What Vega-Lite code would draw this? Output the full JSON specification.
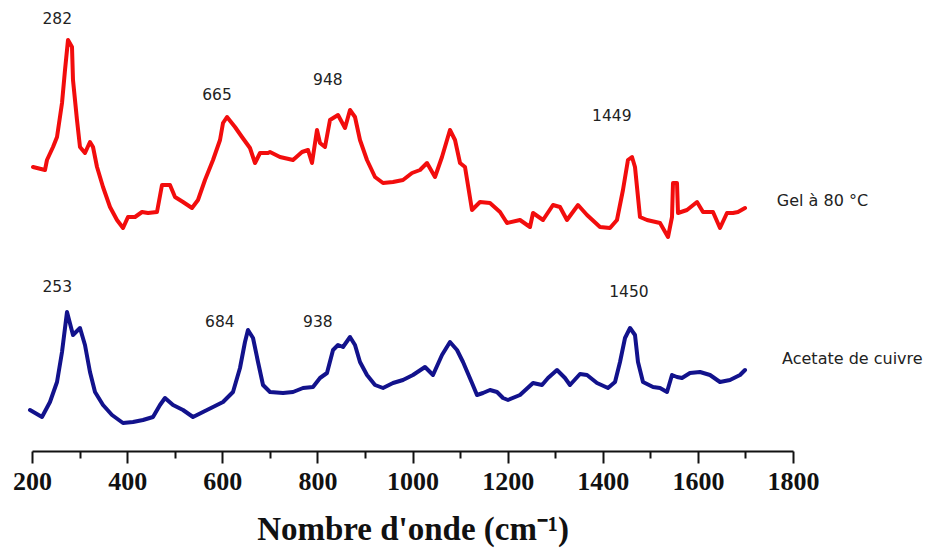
{
  "$schema": "https://vega.github.io/schema/vega-lite/v6.json",
  "width": 761,
  "height": 451,
  "autosize": {"type": "none"},
  "padding": {"left": 32, "top": 0, "right": 138, "bottom": 98},
  "background": "white",
  "config": {"view": {"stroke": null}},
  "datasets": {
    "spectra": [
      {"s": "Gel", "wn": 202.1, "i": 284}, {"s": "Gel", "wn": 227.3, "i": 281}, {"s": "Gel", "wn": 231.5, "i": 291}, {"s": "Gel", "wn": 244.2, "i": 304}, {"s": "Gel", "wn": 252.6, "i": 314}, {"s": "Gel", "wn": 263.1, "i": 348}, {"s": "Gel", "wn": 269.4, "i": 381}, {"s": "Gel", "wn": 275.7, "i": 411}, {"s": "Gel", "wn": 284.1, "i": 404}, {"s": "Gel", "wn": 286.2, "i": 371}, {"s": "Gel", "wn": 294.6, "i": 331}, {"s": "Gel", "wn": 300.9, "i": 304}, {"s": "Gel", "wn": 311.4, "i": 298}, {"s": "Gel", "wn": 321.9, "i": 309}, {"s": "Gel", "wn": 328.3, "i": 304}, {"s": "Gel", "wn": 336.7, "i": 284}, {"s": "Gel", "wn": 349.3, "i": 264}, {"s": "Gel", "wn": 364.0, "i": 244}, {"s": "Gel", "wn": 378.7, "i": 231}, {"s": "Gel", "wn": 391.4, "i": 223}, {"s": "Gel", "wn": 401.8, "i": 234}, {"s": "Gel", "wn": 416.6, "i": 234}, {"s": "Gel", "wn": 431.3, "i": 239}, {"s": "Gel", "wn": 443.9, "i": 238}, {"s": "Gel", "wn": 462.8, "i": 239}, {"s": "Gel", "wn": 473.3, "i": 266}, {"s": "Gel", "wn": 490.1, "i": 266}, {"s": "Gel", "wn": 500.7, "i": 254}, {"s": "Gel", "wn": 517.5, "i": 249}, {"s": "Gel", "wn": 536.4, "i": 243}, {"s": "Gel", "wn": 549.0, "i": 251}, {"s": "Gel", "wn": 563.7, "i": 271}, {"s": "Gel", "wn": 580.6, "i": 291}, {"s": "Gel", "wn": 595.3, "i": 311}, {"s": "Gel", "wn": 601.6, "i": 328}, {"s": "Gel", "wn": 610.0, "i": 334}, {"s": "Gel", "wn": 626.8, "i": 324}, {"s": "Gel", "wn": 641.5, "i": 314}, {"s": "Gel", "wn": 658.3, "i": 303}, {"s": "Gel", "wn": 668.9, "i": 288}, {"s": "Gel", "wn": 679.4, "i": 298}, {"s": "Gel", "wn": 696.2, "i": 298}, {"s": "Gel", "wn": 700.4, "i": 299}, {"s": "Gel", "wn": 721.4, "i": 294}, {"s": "Gel", "wn": 748.8, "i": 291}, {"s": "Gel", "wn": 767.7, "i": 299}, {"s": "Gel", "wn": 780.3, "i": 301}, {"s": "Gel", "wn": 788.7, "i": 288}, {"s": "Gel", "wn": 799.2, "i": 321}, {"s": "Gel", "wn": 805.5, "i": 308}, {"s": "Gel", "wn": 816.0, "i": 304}, {"s": "Gel", "wn": 826.5, "i": 331}, {"s": "Gel", "wn": 843.4, "i": 336}, {"s": "Gel", "wn": 858.1, "i": 323}, {"s": "Gel", "wn": 868.6, "i": 341}, {"s": "Gel", "wn": 879.1, "i": 334}, {"s": "Gel", "wn": 889.6, "i": 311}, {"s": "Gel", "wn": 904.3, "i": 291}, {"s": "Gel", "wn": 921.2, "i": 274}, {"s": "Gel", "wn": 938.0, "i": 268}, {"s": "Gel", "wn": 959.0, "i": 269}, {"s": "Gel", "wn": 980.0, "i": 271}, {"s": "Gel", "wn": 999.0, "i": 278}, {"s": "Gel", "wn": 1015.8, "i": 281}, {"s": "Gel", "wn": 1030.5, "i": 288}, {"s": "Gel", "wn": 1047.3, "i": 274}, {"s": "Gel", "wn": 1062.0, "i": 294}, {"s": "Gel", "wn": 1078.8, "i": 321}, {"s": "Gel", "wn": 1089.4, "i": 311}, {"s": "Gel", "wn": 1099.9, "i": 288}, {"s": "Gel", "wn": 1110.4, "i": 284}, {"s": "Gel", "wn": 1125.1, "i": 241}, {"s": "Gel", "wn": 1141.9, "i": 249}, {"s": "Gel", "wn": 1162.9, "i": 248}, {"s": "Gel", "wn": 1184.0, "i": 239}, {"s": "Gel", "wn": 1198.7, "i": 228}, {"s": "Gel", "wn": 1226.0, "i": 231}, {"s": "Gel", "wn": 1247.0, "i": 224}, {"s": "Gel", "wn": 1253.4, "i": 238}, {"s": "Gel", "wn": 1274.4, "i": 231}, {"s": "Gel", "wn": 1295.4, "i": 246}, {"s": "Gel", "wn": 1310.1, "i": 244}, {"s": "Gel", "wn": 1324.8, "i": 231}, {"s": "Gel", "wn": 1348.0, "i": 246}, {"s": "Gel", "wn": 1366.9, "i": 236}, {"s": "Gel", "wn": 1394.2, "i": 224}, {"s": "Gel", "wn": 1415.2, "i": 223}, {"s": "Gel", "wn": 1429.9, "i": 231}, {"s": "Gel", "wn": 1442.5, "i": 261}, {"s": "Gel", "wn": 1453.0, "i": 291}, {"s": "Gel", "wn": 1461.5, "i": 294}, {"s": "Gel", "wn": 1467.8, "i": 284}, {"s": "Gel", "wn": 1478.3, "i": 234}, {"s": "Gel", "wn": 1493.0, "i": 231}, {"s": "Gel", "wn": 1520.4, "i": 228}, {"s": "Gel", "wn": 1537.2, "i": 214}, {"s": "Gel", "wn": 1545.6, "i": 234}, {"s": "Gel", "wn": 1547.7, "i": 268}, {"s": "Gel", "wn": 1556.1, "i": 268}, {"s": "Gel", "wn": 1558.2, "i": 238}, {"s": "Gel", "wn": 1577.1, "i": 241}, {"s": "Gel", "wn": 1598.2, "i": 249}, {"s": "Gel", "wn": 1610.8, "i": 239}, {"s": "Gel", "wn": 1631.8, "i": 239}, {"s": "Gel", "wn": 1646.5, "i": 223}, {"s": "Gel", "wn": 1661.2, "i": 238}, {"s": "Gel", "wn": 1673.8, "i": 238}, {"s": "Gel", "wn": 1684.3, "i": 239}, {"s": "Gel", "wn": 1699.1, "i": 243},
      {"s": "Acetate", "wn": 195.8, "i": 41}, {"s": "Acetate", "wn": 221.0, "i": 34}, {"s": "Acetate", "wn": 237.8, "i": 49}, {"s": "Acetate", "wn": 252.6, "i": 69}, {"s": "Acetate", "wn": 263.1, "i": 99}, {"s": "Acetate", "wn": 273.6, "i": 139}, {"s": "Acetate", "wn": 286.2, "i": 116}, {"s": "Acetate", "wn": 300.9, "i": 123}, {"s": "Acetate", "wn": 311.4, "i": 106}, {"s": "Acetate", "wn": 321.9, "i": 79}, {"s": "Acetate", "wn": 332.5, "i": 59}, {"s": "Acetate", "wn": 349.3, "i": 46}, {"s": "Acetate", "wn": 368.2, "i": 36}, {"s": "Acetate", "wn": 391.3, "i": 28}, {"s": "Acetate", "wn": 412.4, "i": 29}, {"s": "Acetate", "wn": 433.4, "i": 31}, {"s": "Acetate", "wn": 454.4, "i": 34}, {"s": "Acetate", "wn": 469.1, "i": 46}, {"s": "Acetate", "wn": 479.6, "i": 53}, {"s": "Acetate", "wn": 496.5, "i": 46}, {"s": "Acetate", "wn": 517.5, "i": 41}, {"s": "Acetate", "wn": 538.5, "i": 34}, {"s": "Acetate", "wn": 559.5, "i": 39}, {"s": "Acetate", "wn": 580.6, "i": 44}, {"s": "Acetate", "wn": 601.6, "i": 49}, {"s": "Acetate", "wn": 622.6, "i": 59}, {"s": "Acetate", "wn": 637.3, "i": 83}, {"s": "Acetate", "wn": 647.8, "i": 109}, {"s": "Acetate", "wn": 654.1, "i": 121}, {"s": "Acetate", "wn": 664.7, "i": 113}, {"s": "Acetate", "wn": 675.2, "i": 89}, {"s": "Acetate", "wn": 685.7, "i": 66}, {"s": "Acetate", "wn": 700.4, "i": 59}, {"s": "Acetate", "wn": 727.7, "i": 58}, {"s": "Acetate", "wn": 748.8, "i": 59}, {"s": "Acetate", "wn": 769.8, "i": 63}, {"s": "Acetate", "wn": 790.8, "i": 64}, {"s": "Acetate", "wn": 805.5, "i": 73}, {"s": "Acetate", "wn": 820.2, "i": 78}, {"s": "Acetate", "wn": 832.9, "i": 101}, {"s": "Acetate", "wn": 843.4, "i": 106}, {"s": "Acetate", "wn": 853.9, "i": 104}, {"s": "Acetate", "wn": 868.6, "i": 114}, {"s": "Acetate", "wn": 879.1, "i": 106}, {"s": "Acetate", "wn": 889.6, "i": 89}, {"s": "Acetate", "wn": 904.3, "i": 76}, {"s": "Acetate", "wn": 921.2, "i": 66}, {"s": "Acetate", "wn": 938.0, "i": 63}, {"s": "Acetate", "wn": 959.0, "i": 68}, {"s": "Acetate", "wn": 980.0, "i": 71}, {"s": "Acetate", "wn": 1001.0, "i": 76}, {"s": "Acetate", "wn": 1026.3, "i": 84}, {"s": "Acetate", "wn": 1043.1, "i": 76}, {"s": "Acetate", "wn": 1062.0, "i": 96}, {"s": "Acetate", "wn": 1078.8, "i": 109}, {"s": "Acetate", "wn": 1093.6, "i": 101}, {"s": "Acetate", "wn": 1106.2, "i": 89}, {"s": "Acetate", "wn": 1125.1, "i": 68}, {"s": "Acetate", "wn": 1135.6, "i": 56}, {"s": "Acetate", "wn": 1148.2, "i": 58}, {"s": "Acetate", "wn": 1162.9, "i": 61}, {"s": "Acetate", "wn": 1177.7, "i": 59}, {"s": "Acetate", "wn": 1190.3, "i": 53}, {"s": "Acetate", "wn": 1200.8, "i": 51}, {"s": "Acetate", "wn": 1226.0, "i": 56}, {"s": "Acetate", "wn": 1253.4, "i": 68}, {"s": "Acetate", "wn": 1272.3, "i": 66}, {"s": "Acetate", "wn": 1284.9, "i": 73}, {"s": "Acetate", "wn": 1303.8, "i": 81}, {"s": "Acetate", "wn": 1320.6, "i": 73}, {"s": "Acetate", "wn": 1331.1, "i": 66}, {"s": "Acetate", "wn": 1352.2, "i": 77}, {"s": "Acetate", "wn": 1366.9, "i": 76}, {"s": "Acetate", "wn": 1387.9, "i": 68}, {"s": "Acetate", "wn": 1411.0, "i": 63}, {"s": "Acetate", "wn": 1425.8, "i": 69}, {"s": "Acetate", "wn": 1436.3, "i": 89}, {"s": "Acetate", "wn": 1446.8, "i": 113}, {"s": "Acetate", "wn": 1457.4, "i": 123}, {"s": "Acetate", "wn": 1467.8, "i": 116}, {"s": "Acetate", "wn": 1474.1, "i": 89}, {"s": "Acetate", "wn": 1484.6, "i": 69}, {"s": "Acetate", "wn": 1505.7, "i": 64}, {"s": "Acetate", "wn": 1520.4, "i": 63}, {"s": "Acetate", "wn": 1535.1, "i": 59}, {"s": "Acetate", "wn": 1545.6, "i": 76}, {"s": "Acetate", "wn": 1556.1, "i": 74}, {"s": "Acetate", "wn": 1566.6, "i": 73}, {"s": "Acetate", "wn": 1583.4, "i": 78}, {"s": "Acetate", "wn": 1604.5, "i": 79}, {"s": "Acetate", "wn": 1625.5, "i": 76}, {"s": "Acetate", "wn": 1646.5, "i": 69}, {"s": "Acetate", "wn": 1667.5, "i": 71}, {"s": "Acetate", "wn": 1688.6, "i": 76}, {"s": "Acetate", "wn": 1699.1, "i": 81}
    ],
    "peaks": [
      {"wn": 253, "i": 432, "t": "282"},
      {"wn": 589, "i": 356, "t": "665"},
      {"wn": 822, "i": 371, "t": "948"},
      {"wn": 1419, "i": 335, "t": "1449"},
      {"wn": 253, "i": 164, "t": "253"},
      {"wn": 595, "i": 129, "t": "684"},
      {"wn": 801, "i": 129, "t": "938"},
      {"wn": 1455, "i": 159, "t": "1450"}
    ],
    "names": [
      {"wn": 1766, "i": 250, "t": "Gel à 80 °C"},
      {"wn": 1777, "i": 92, "t": "Acetate de cuivre"}
    ]
  },
  "layer": [
    {
      "data": {"name": "spectra"},
      "mark": {"type": "line", "strokeWidth": 4, "strokeJoin": "round", "strokeCap": "round", "clip": false},
      "encoding": {
        "x": {
          "field": "wn", "type": "quantitative",
          "scale": {"domain": [200, 1800], "nice": false, "zero": false},
          "axis": {
            "values": [200, 300, 400, 500, 600, 700, 800, 900, 1000, 1100, 1200, 1300, 1400, 1500, 1600, 1700, 1800],
            "format": "d",
            "labelExpr": "datum.value % 200 === 0 ? datum.label : ''",
            "labelFont": "Liberation Serif",
            "labelFontWeight": "bold",
            "labelFontSize": 26,
            "labelColor": "#111",
            "labelPadding": 5,
            "labelFlush": false,
            "labelOverlap": false,
            "domainColor": "#111",
            "domainWidth": 2,
            "tickColor": "#111",
            "tickWidth": 2,
            "tickSize": {"condition": {"test": "datum.value % 200 === 0", "value": 12}, "value": 7},
            "grid": false,
            "title": "Nombre d'onde (cm⁻¹)",
            "titleFont": "Liberation Serif",
            "titleFontWeight": "bold",
            "titleFontSize": 33,
            "titleColor": "#111",
            "titlePadding": 19
          }
        },
        "y": {
          "field": "i", "type": "quantitative",
          "scale": {"domain": [0, 451], "nice": false, "zero": false},
          "axis": null
        },
        "color": {
          "field": "s", "type": "nominal",
          "scale": {"domain": ["Gel", "Acetate"], "range": ["#f20d0d", "#12128c"]},
          "legend": null
        },
        "detail": {"field": "s"}
      }
    },
    {
      "data": {"name": "peaks"},
      "mark": {"type": "text", "font": "DejaVu Sans", "fontSize": 15.5, "color": "#222", "align": "center", "baseline": "middle"},
      "encoding": {
        "x": {"field": "wn", "type": "quantitative"},
        "y": {"field": "i", "type": "quantitative"},
        "text": {"field": "t"}
      }
    },
    {
      "data": {"name": "names"},
      "mark": {"type": "text", "font": "DejaVu Sans", "fontSize": 16, "color": "#222", "align": "left", "baseline": "middle"},
      "encoding": {
        "x": {"field": "wn", "type": "quantitative"},
        "y": {"field": "i", "type": "quantitative"},
        "text": {"field": "t"}
      }
    }
  ]
}
